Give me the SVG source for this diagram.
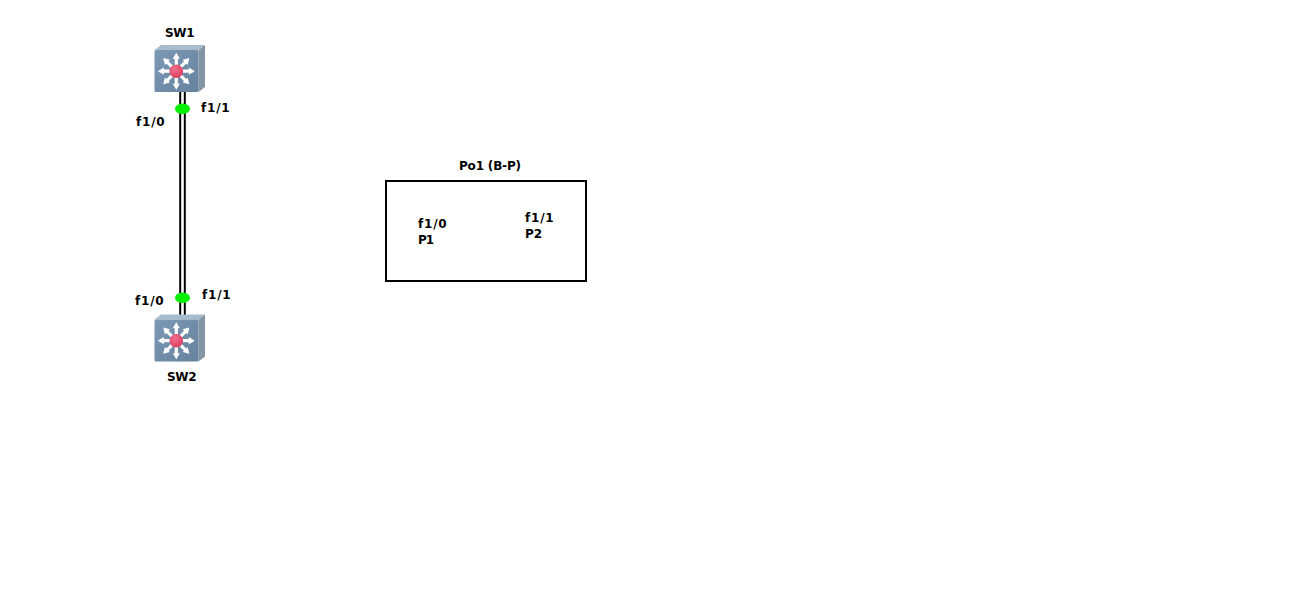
<svg xmlns="http://www.w3.org/2000/svg" width="1290" height="594" viewBox="0 0 1290 594">
<style>
text{font-family:"DejaVu Sans","Liberation Sans",sans-serif;font-weight:bold;font-size:12px;fill:#000}
.pl{letter-spacing:0.8px}
.l{stroke:#000;stroke-width:2;fill:none}
.p{fill:#00ee00}
</style>
<defs>
<radialGradient id="hub" cx="0.4" cy="0.35" r="0.7"><stop offset="0" stop-color="#f0708c"/><stop offset="1" stop-color="#dc3c5e"/></radialGradient>
<linearGradient id="face" x1="0" y1="0" x2="1" y2="1"><stop offset="0" stop-color="#7d98b4"/><stop offset="1" stop-color="#65829f"/></linearGradient>
<path id="a" d="M-1.600 0V-12.500H-3.600L0 -18.500L3.600 -12.500H1.600V0z" fill="#fff"/>
<g id="mls">
<path d="M-0.500 5L6 0H50L43.500 5z" fill="#a9bccd"/>
<path d="M43.500 5L50 0V42L43.500 47z" fill="#8496a6"/>
<rect x="-0.500" y="5" width="44" height="42" rx="1.500" fill="url(#face)"/>
<g transform="translate(21.300 26.200)">
<use href="#a"/><use href="#a" transform="rotate(45)"/><use href="#a" transform="rotate(90)"/><use href="#a" transform="rotate(135)"/><use href="#a" transform="rotate(180)"/><use href="#a" transform="rotate(225)"/><use href="#a" transform="rotate(270)"/><use href="#a" transform="rotate(315)"/>
<circle r="6.800" fill="url(#hub)"/>
</g>
</g>
</defs>
<rect width="1290" height="594" fill="#fff"/>
<g id="connectors">
<path class="l" d="M180.200 92V316"/>
<path class="l" d="M184.800 92V316"/>
</g>
<g id="SW1"><use href="#mls" x="155" y="45"/><text x="165" y="37" textLength="29.500">SW1</text></g>
<g id="SW2"><use href="#mls" x="155" y="314.500"/><text x="167" y="381" textLength="29.500">SW2</text></g>
<g id="ports">
<ellipse class="p" cx="182.500" cy="108.700" rx="7.500" ry="5.200"/>
<ellipse class="p" cx="182.500" cy="297.700" rx="7.500" ry="5.200"/>
<text class="pl" x="136" y="126">f1/0</text>
<text class="pl" x="201" y="112">f1/1</text>
<text class="pl" x="135" y="305">f1/0</text>
<text class="pl" x="202" y="299">f1/1</text>
</g>
<g id="Po1">
<rect x="386" y="181" width="200" height="100" fill="none" stroke="#000" stroke-width="2"/>
<text x="459" y="170" textLength="62">Po1 (B-P)</text>
<text class="pl" x="418" y="228">f1/0</text>
<text x="418" y="244" textLength="16">P1</text>
<text class="pl" x="525" y="222">f1/1</text>
<text x="525" y="238">P2</text>
</g>
</svg>
